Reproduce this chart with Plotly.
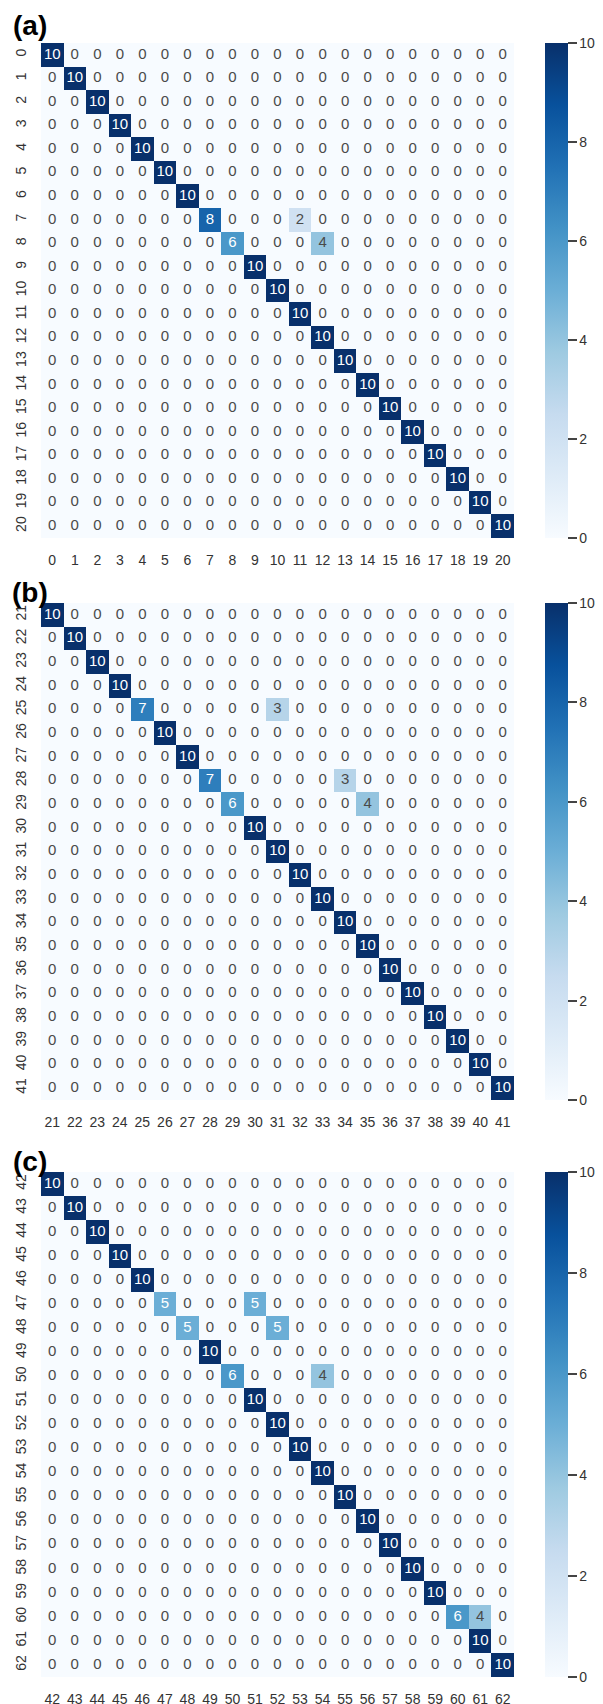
import plotly.graph_objects as go
import plotly.colors as pc

# page is rendered with an 8px body margin; compensate
OFF = 8
W, H = 603 - OFF, 1704 - OFF

# ---------------- data ----------------
labels_a = list(range(0, 21))
labels_b = list(range(21, 42))
labels_c = list(range(42, 63))

diag_a = [10, 10, 10, 10, 10, 10, 10, 8, 6, 10, 10, 10, 10, 10, 10, 10, 10, 10, 10, 10, 10]
diag_b = [10, 10, 10, 10, 7, 10, 10, 7, 6, 10, 10, 10, 10, 10, 10, 10, 10, 10, 10, 10, 10]
diag_c = [10, 10, 10, 10, 10, 5, 5, 10, 6, 10, 10, 10, 10, 10, 10, 10, 10, 10, 6, 10, 10]

# off-diagonal entries: (row index, column index, value)
off_a = [(7, 11, 2), (8, 12, 4)]
off_b = [(4, 10, 3), (7, 13, 3), (8, 14, 4)]
off_c = [(5, 9, 5), (6, 10, 5), (8, 12, 4), (18, 19, 4)]

panel_titles = ["(a)", "(b)", "(c)"]
cbar_ticks = [0, 2, 4, 6, 8, 10]


def build_matrix(diag, off):
    n = len(diag)
    z = [[0] * n for _ in range(n)]
    for i, v in enumerate(diag):
        z[i][i] = v
    for r, c, v in off:
        z[r][c] = v
    return z


def px_x(p):
    return (p - OFF) / W


def px_y(p):
    return 1 - (p - OFF) / H


# ---------------- layout geometry (page pixels, top-down) ----------------
x_left, x_right = 41, 514
panels_px = [(43, 538), (603, 1100), (1172, 1677)]
title_px = [25.5, 592, 1161]
cb_left, cb_thick = 545, 23

blues = pc.sequential.Blues
n = len(blues)
colorscale = [[i / (n - 1), c] for i, c in enumerate(blues)]

font_fam = "Liberation Sans, Arial, sans-serif"

fig = go.Figure()
layout = {}

datasets = [(labels_a, diag_a, off_a), (labels_b, diag_b, off_b), (labels_c, diag_c, off_c)]

for k, ((labels, diag, off), (top, bot)) in enumerate(zip(datasets, panels_px)):
    z = build_matrix(diag, off)
    sfx = "" if k == 0 else str(k + 1)
    xa, ya = "x" + sfx, "y" + sfx
    fig.add_trace(go.Heatmap(
        z=z, x=labels, y=labels, xaxis=xa, yaxis=ya,
        zmin=0, zmax=10, colorscale=colorscale,
        hoverinfo="skip",
        colorbar=dict(
            x=px_x(cb_left), xanchor="left", xpad=0, ypad=0,
            y=px_y(top), yanchor="top",
            len=(bot - top) / H, lenmode="fraction",
            thickness=cb_thick, thicknessmode="pixels",
            outlinewidth=0,
            tickvals=cbar_ticks, ticks="outside", ticklen=9, tickwidth=1.6,
            tickcolor="#444", tickprefix="\u00a0",
            tickfont=dict(size=14, color="#333", family=font_fam),
        ),
    ))
    xs, ys, ts, cs = [], [], [], []
    for i, row in enumerate(z):
        for j, v in enumerate(row):
            xs.append(labels[j])
            ys.append(labels[i])
            ts.append(str(v))
            cs.append("white" if v >= 5 else "#4a4a4a")
    fig.add_trace(go.Scatter(
        x=xs, y=ys, text=ts, mode="text", xaxis=xa, yaxis=ya,
        textfont=dict(size=15, color=cs, family=font_fam),
        textposition="middle center",
        hoverinfo="skip", showlegend=False,
    ))
    xkey = "xaxis" + sfx
    ykey = "yaxis" + sfx
    layout[xkey] = dict(
        domain=[px_x(x_left), px_x(x_right)], anchor=ya, automargin=False,
        tickmode="array", tickvals=labels, ticktext=[str(v) for v in labels],
        showgrid=False, zeroline=False, showline=False, ticks="",
        tickangle=0, range=[labels[0] - 0.5, labels[-1] + 0.5],
        tickfont=dict(size=14, color="#333", family=font_fam),
        ticklabelstandoff=12,
    )
    layout[ykey] = dict(
        domain=[px_y(bot), px_y(top)], anchor=xa, automargin=False,
        tickmode="array", tickvals=labels, ticktext=[str(v) for v in labels],
        showgrid=False, zeroline=False, showline=False, ticks="",
        tickangle=-90, range=[labels[-1] + 0.5, labels[0] - 0.5],
        tickfont=dict(size=14, color="#333", family=font_fam),
        ticklabelstandoff=11,
    )

annotations = []
for t, yc in zip(panel_titles, title_px):
    annotations.append(dict(
        text="<b>%s</b>" % t, x=px_x(30), y=px_y(yc), xref="paper", yref="paper",
        xanchor="center", yanchor="middle", showarrow=False,
        font=dict(size=28, color="black", family=font_fam),
    ))

fig.update_layout(
    width=W, height=H,
    margin=dict(l=0, r=0, t=0, b=0, autoexpand=False),
    paper_bgcolor="white", plot_bgcolor="white",
    showlegend=False,
    annotations=annotations,
    **layout,
)

fig.write_html("out.html")
